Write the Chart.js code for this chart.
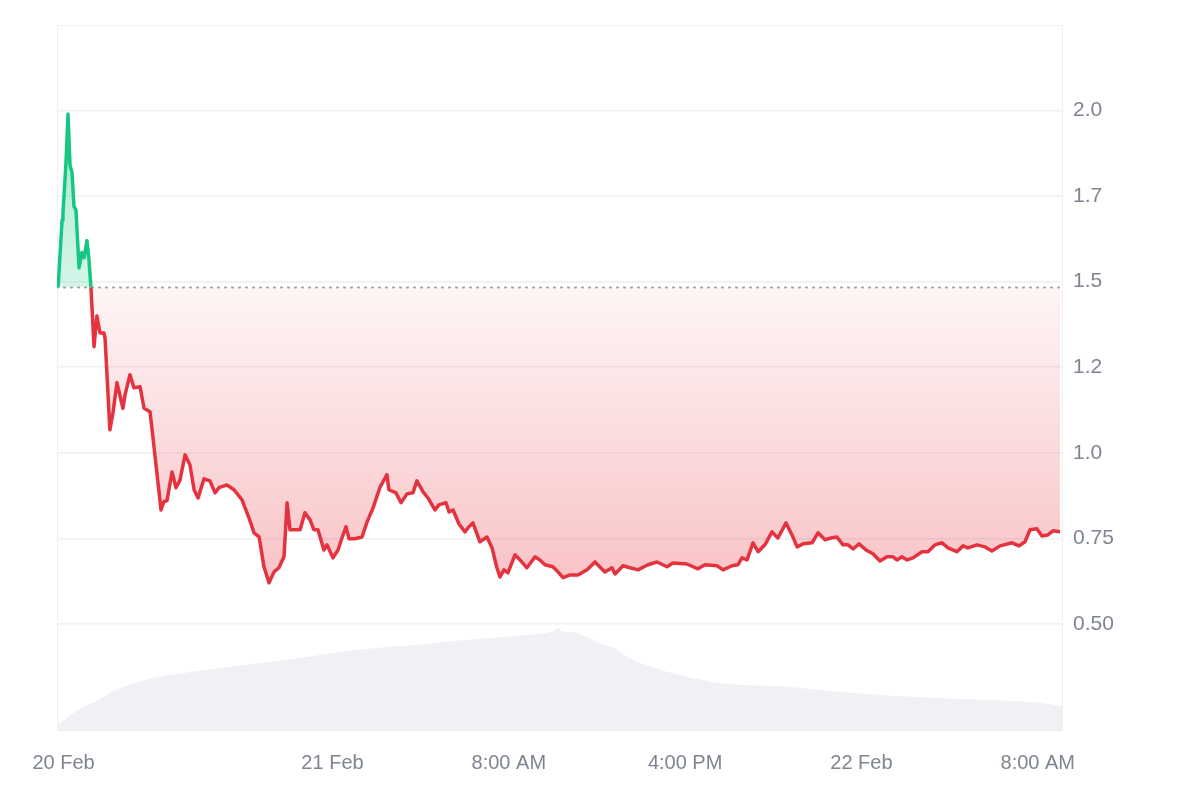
<!DOCTYPE html>
<html>
<head>
<meta charset="utf-8">
<script src="https://cdn.jsdelivr.net/npm/chart.js@4.4.1/dist/chart.umd.min.js"></script>
<style>
  html, body { margin: 0; padding: 0; background: #fff; }
  .wrap { width: 1200px; height: 800px; position: relative; }
</style>
</head>
<body>
<div class="wrap"><canvas id="chart"></canvas></div>
<script>
// price, hours since 20 Feb 00:00
const times = [
  11.55, 11.73, 11.77, 11.91, 12.00, 12.09, 12.18, 12.27, 12.36, 12.50, 12.63, 12.73, 12.86, 12.95, 13.04,
  13.18, 13.31, 13.45, 13.63, 13.68, 13.90, 14.04, 14.22, 14.49, 14.59, 14.81, 14.99, 15.27, 15.45, 15.72,
  15.90, 16.22, 16.35, 16.49, 16.72, 16.90, 17.08, 17.31, 17.53, 17.72, 17.90, 18.17, 18.44, 18.67, 18.85,
  19.21, 19.53, 19.89, 20.21, 20.44, 20.67, 20.89, 21.12, 21.35, 21.57, 21.80, 21.94, 22.07, 22.39, 22.53,
  22.75, 22.98, 23.16, 23.34, 23.61, 23.75, 24.02, 24.25, 24.43, 24.61, 24.75, 25.02, 25.34, 25.57, 25.84,
  26.16, 26.29, 26.47, 26.56, 26.88, 27.11, 27.38, 27.65, 27.83, 28.11, 28.33, 28.65, 28.83, 29.15, 29.29,
  29.47, 29.74, 30.01, 30.19, 30.37, 30.69, 31.01, 31.24, 31.46, 31.60, 31.78, 31.96, 32.28, 32.51, 32.82,
  33.19, 33.41, 33.64, 34.00, 34.23, 34.46, 34.78, 35.14, 35.55, 35.91, 36.36, 36.68, 36.82, 37.18, 37.50,
  37.86, 38.31, 38.72, 39.18, 39.45, 40.08, 40.58, 40.90, 41.45, 41.72, 42.13, 42.40, 42.58, 42.81, 43.08,
  43.31, 43.62, 43.94, 44.21, 44.58, 44.85, 45.08, 45.35, 45.76, 46.03, 46.35, 46.62, 46.89, 47.16, 47.39,
  47.62, 47.89, 48.21, 48.52, 48.84, 49.16, 49.43, 49.61, 49.84, 50.07, 50.34, 50.75, 51.02, 51.34, 51.65,
  51.93, 52.33, 52.61, 52.83, 53.24, 53.61, 53.92, 54.29, 54.83, 55.15, 55.42, 55.65, 55.96, 56.19, 56.46,
  56.69, 57.01
];
const prices = [
  1.483, 1.68, 1.70, 1.85, 1.99, 1.84, 1.82, 1.72, 1.71, 1.54, 1.585, 1.57, 1.62, 1.565, 1.483,
  1.31, 1.40, 1.35, 1.35, 1.335, 1.067, 1.117, 1.205, 1.13, 1.17, 1.228, 1.19, 1.193, 1.13, 1.12,
  1.018, 0.833, 0.857, 0.86, 0.944, 0.898, 0.92, 0.994, 0.965, 0.892, 0.868, 0.924, 0.918, 0.883, 0.898,
  0.906, 0.892, 0.863, 0.81, 0.766, 0.754, 0.667, 0.62, 0.652, 0.664, 0.696, 0.854, 0.775, 0.775, 0.775,
  0.825, 0.804, 0.775, 0.775, 0.716, 0.731, 0.693, 0.716, 0.751, 0.784, 0.749, 0.749, 0.754, 0.798, 0.839,
  0.90, 0.915, 0.936, 0.892, 0.883, 0.854, 0.88, 0.883, 0.918, 0.886, 0.868, 0.833, 0.848, 0.854, 0.827,
  0.833, 0.792, 0.769, 0.784, 0.795, 0.74, 0.754, 0.722, 0.664, 0.637, 0.658, 0.649, 0.702, 0.687, 0.664,
  0.696, 0.687, 0.673, 0.667, 0.652, 0.635, 0.643, 0.643, 0.658, 0.681, 0.652, 0.664, 0.646, 0.67, 0.664,
  0.658, 0.673, 0.681, 0.667, 0.678, 0.675, 0.661, 0.673, 0.67, 0.658, 0.67, 0.673, 0.693, 0.687, 0.737,
  0.711, 0.731, 0.769, 0.751, 0.795, 0.76, 0.725, 0.734, 0.737, 0.766, 0.746, 0.751, 0.754, 0.731, 0.731,
  0.719, 0.734, 0.716, 0.705, 0.684, 0.696, 0.696, 0.687, 0.696, 0.687, 0.693, 0.711, 0.711, 0.731, 0.737,
  0.722, 0.711, 0.728, 0.722, 0.731, 0.725, 0.713, 0.728, 0.737, 0.728, 0.74, 0.775, 0.778, 0.757, 0.76,
  0.772, 0.769
];
const baseline = 1.483; // opening price, dotted line

// volume (relative units)
const volTimes = [11.5, 12.45, 13.45, 14.22, 15.95, 17.67, 19.35, 21.16, 22.53, 24.61, 26.38, 28.11, 29.79,
  31.55, 32.96, 34.0, 34.23, 34.41, 35.05, 36.14, 36.77, 37.63, 39.18, 40.67, 42.17, 44.44, 46.71,
  49.75, 52.79, 55.78, 57.1];
const volumes = [4, 20, 31, 41, 53, 59, 64, 69, 73, 80, 84, 87, 91,
  94, 97, 100, 104, 100, 99, 88, 83, 71, 59, 51, 46, 44, 39,
  34, 31, 28, 24];

const yTickValues = [0.5, 0.75, 1.0, 1.25, 1.5, 1.75, 2.0];
const yTickLabels = ['0.50', '0.75', '1.0', '1.2', '1.5', '1.7', '2.0'];
const xTickValues = [11.8, 24, 32, 40, 48, 56];
const xTickLabels = ['20 Feb', '21 Feb', '8:00 AM', '4:00 PM', '22 Feb', '8:00 AM'];

const GREEN = '#16c784';
const RED = '#e5323f';
const GRID = '#eef0f3';

const pricePoints = times.map((t, i) => ({ x: t, y: prices[i] }));
const volPoints = volTimes.map((t, i) => ({ x: t, y: volumes[i] }));

// one gradient: green above the baseline, red below, fading toward it
function fillGradient(context) {
  const chart = context.chart;
  const { ctx, chartArea, scales } = chart;
  if (!chartArea) return 'transparent';
  const yTop = scales.y.getPixelForValue(Math.max(...prices));
  const yBot = scales.y.getPixelForValue(Math.min(...prices));
  const yBase = scales.y.getPixelForValue(baseline);
  const t = (yBase - yTop) / (yBot - yTop);
  const g = ctx.createLinearGradient(0, yTop, 0, yBot);
  g.addColorStop(0, 'rgba(22,199,132,0.38)');
  g.addColorStop(t, 'rgba(22,199,132,0.18)');
  g.addColorStop(t, 'rgba(234,57,67,0.05)');
  g.addColorStop(1, 'rgba(234,57,67,0.30)');
  return g;
}

const framePlugin = {
  id: 'frame',
  beforeDatasetsDraw(chart) {
    const { ctx, chartArea: a } = chart;
    ctx.save();
    ctx.strokeStyle = GRID;
    ctx.lineWidth = 1;
    ctx.strokeRect(a.left + 0.5, a.top + 0.5, a.right - a.left, a.bottom - a.top);
    ctx.restore();
  }
};

new Chart(document.getElementById('chart'), {
  type: 'line',
  data: {
    datasets: [
      {
        label: 'Price',
        data: pricePoints,
        yAxisID: 'y',
        borderColor: RED,
        borderWidth: 3.5,
        borderJoinStyle: 'round',
        pointRadius: 0,
        tension: 0,
        order: 0,
        fill: { value: baseline },
        backgroundColor: fillGradient,
        segment: {
          borderColor: ctx => (ctx.p0.parsed.y + ctx.p1.parsed.y) / 2 >= baseline ? GREEN : RED
        }
      },
      {
        label: 'Open',
        data: [{ x: 11.5, y: baseline }, { x: 57.1, y: baseline }],
        yAxisID: 'y',
        borderColor: '#9ba1aa',
        borderWidth: 2,
        borderDash: [1, 6],
        borderCapStyle: 'round',
        pointRadius: 0,
        fill: false,
        order: 1
      },
      {
        label: 'Volume',
        data: volPoints,
        yAxisID: 'yVol',
        borderColor: '#eff1f4',
        borderWidth: 1,
        backgroundColor: '#eff1f4',
        pointRadius: 0,
        tension: 0.3,
        fill: 'origin',
        order: 2
      }
    ]
  },
  options: {
    responsive: true,
    maintainAspectRatio: false,
    animation: false,
    layout: { padding: { left: 57, top: 25, right: 0, bottom: 0 } },
    plugins: {
      legend: { display: false },
      tooltip: { enabled: false }
    },
    scales: {
      x: {
        type: 'linear',
        min: 11.5,
        max: 57.1,
        grid: { display: false, drawTicks: false },
        border: { display: false },
        afterBuildTicks: scale => { scale.ticks = xTickValues.map(v => ({ value: v })); },
        afterFit: scale => { scale.height = 70; },
        ticks: {
          autoSkip: false,
          maxRotation: 0,
          padding: 21,
          color: '#7f8590',
          font: { family: '"Liberation Sans", Arial, sans-serif', size: 20 },
          callback: (v, i) => xTickLabels[i]
        }
      },
      y: {
        position: 'right',
        min: 0.19,
        max: 2.25,
        grid: { color: GRID, drawTicks: false, lineWidth: 1.5 },
        border: { display: false },
        afterBuildTicks: scale => { scale.ticks = yTickValues.map(v => ({ value: v })); },
        afterFit: scale => { scale.width = 138; },
        ticks: {
          padding: 11,
          color: '#7f8590',
          font: { family: '"Liberation Sans", Arial, sans-serif', size: 21 },
          callback: (v, i) => yTickLabels[i]
        }
      },
      yVol: {
        display: false,
        min: 0,
        max: 720
      }
    }
  },
  plugins: [framePlugin]
});
</script>
</body>
</html>
